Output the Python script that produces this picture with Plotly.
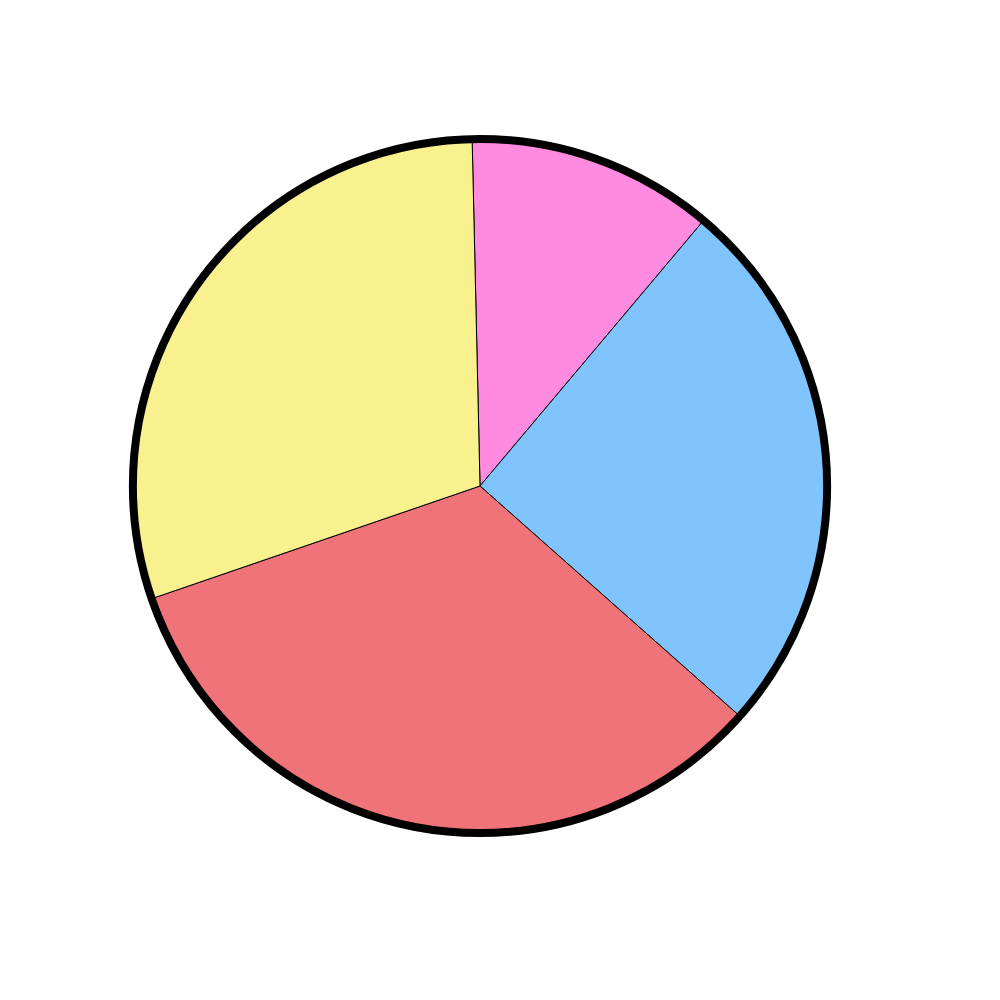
import plotly.graph_objects as go

labels = ["Pink", "Blue", "Red", "Yellow"]
values = [11.5, 25.4, 33.2, 29.9]
colors = ["#FF8BE0", "#80C4FE", "#F0737A", "#F9F18E"]

dom_x = [0.125, 0.819]
dom_y = [0.175, 0.869]

fig = go.Figure()
fig.add_trace(go.Pie(
    labels=labels, values=values, sort=False, direction="clockwise",
    rotation=-1.3, textinfo="none", hoverinfo="label+percent",
    marker=dict(colors=colors, line=dict(color="black", width=1)),
    domain=dict(x=dom_x, y=dom_y), showlegend=False,
))
# outer hand-drawn style border
fig.add_trace(go.Pie(
    labels=["border"], values=[1], textinfo="none", hoverinfo="skip",
    marker=dict(colors=["rgba(0,0,0,0)"], line=dict(color="black", width=8)),
    domain=dict(x=dom_x, y=dom_y), showlegend=False,
))
fig.update_layout(
    width=1000, height=1000,
    margin=dict(l=0, r=0, t=0, b=0),
    paper_bgcolor="white", plot_bgcolor="white",
)
fig.write_html("out.html")
